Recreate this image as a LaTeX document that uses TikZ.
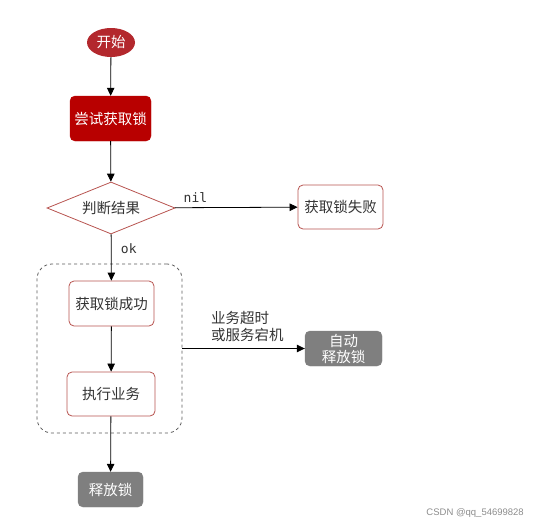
\documentclass[tikz,border=0pt]{standalone}
\usepackage{fontspec}
\setmainfont{Liberation Sans}
\newfontfamily\cjk{Noto Sans CJK SC}
\newfontfamily\monof{DejaVu Sans Mono}
\usetikzlibrary{shapes.geometric,arrows.meta}
\definecolor{startred}{HTML}{B3282D}
\definecolor{boxred}{HTML}{B80000}
\definecolor{edgered}{HTML}{B85450}
\definecolor{greybox}{HTML}{7F7F7F}
\definecolor{txt}{HTML}{333333}
\begin{document}
\begin{tikzpicture}[x=1pt,y=-1pt,
  font=\cjk\fontsize{14.5}{17}\selectfont,
  flow/.style={-{Triangle[length=8pt,width=7.5pt]},black,line width=0.8pt},
  redbox/.style={draw=edgered,fill=white,rounded corners=5pt,line width=0.8pt,text=txt,inner sep=0pt},
  greybx/.style={draw=greybox,fill=greybox,rounded corners=5pt,text=white,inner sep=0pt,align=center},
]
\useasboundingbox (0,0) rectangle (539,528);
\node[ellipse,fill=startred,text=white,minimum width=48pt,minimum height=29pt,inner sep=0pt] (start) at (111,42.5) {开始};
\node[fill=boxred,draw=boxred,rounded corners=5pt,text=white,minimum width=81pt,minimum height=45pt,inner sep=0pt] (try) at (110.5,118.5) {尝试获取锁};
\node[diamond,aspect=2.46,draw=edgered,fill=white,line width=0.8pt,text=txt,minimum width=128pt,minimum height=52pt,inner sep=0pt] (judge) at (111,208) {判断结果};
\node[redbox,minimum width=85pt,minimum height=44pt] (fail) at (340.5,207) {获取锁失败};
\node[draw=txt!80,dashed,rounded corners=15pt,minimum width=145pt,minimum height=169pt,inner sep=0pt,line width=0.8pt] (grp) at (109.5,348.5) {};
\node[redbox,minimum width=85pt,minimum height=45pt] (succ) at (111.5,303.5) {获取锁成功};
\node[redbox,minimum width=88pt,minimum height=44pt] (exec) at (111,394) {执行业务};
\node[greybx,minimum width=65pt,minimum height=35pt] (rel) at (110.5,489.5) {释放锁};
\node[greybx,minimum width=77pt,minimum height=35pt,font=\cjk\fontsize{14.5}{16}\selectfont] (auto) at (343.5,348.5) {自动\\释放锁};
\draw[flow] (start) -- (try);
\draw[flow] (try) -- (judge);
\draw[flow] (judge) -- node[pos=0.12,above,text=txt,font=\monof\fontsize{13}{15}\selectfont,yshift=1pt,xshift=6pt] (nil) {nil} (fail);
\draw[flow] (judge) -- node[pos=0.3,right,text=txt,font=\monof\fontsize{13}{15}\selectfont,xshift=6pt] (ok) {ok} (succ);
\draw[flow] (succ) -- (exec);
\draw[flow] (exec) -- (rel);
\draw[flow] (grp.east) -- (auto);
\node[anchor=south west,align=left,text=txt,inner sep=0pt,font=\cjk\fontsize{14.5}{17}\selectfont] (lbl) at (211,342) {业务超时\\或服务宕机};
\node[anchor=east,text=black!45,inner sep=0pt,font=\fontsize{9.5}{11}\selectfont] (wm) at (524,513) {CSDN @qq\_54699828};
\end{tikzpicture}
\end{document}
